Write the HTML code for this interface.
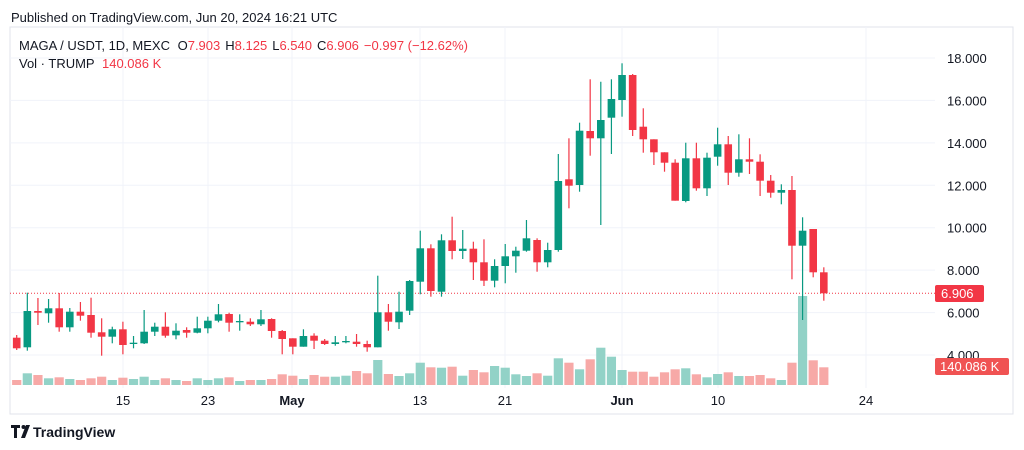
<!DOCTYPE html>
<html><head><meta charset="utf-8"><style>
html,body{margin:0;padding:0;background:#fff;width:1024px;height:450px;overflow:hidden}
svg{display:block;font-family:"Liberation Sans",sans-serif}
</style></head><body>
<svg id="c" width="1024" height="450" xmlns="http://www.w3.org/2000/svg">
<rect width="1024" height="450" fill="#fff"/>
<text x="11" y="22" font-size="13" fill="#131722">Published on TradingView.com, Jun 20, 2024 16:21 UTC</text>
<rect x="10" y="27" width="1003" height="387" fill="none" stroke="#e0e3eb" stroke-width="1"/>
<g id="grid" stroke="#f0f3fa" stroke-width="1"></g>
<g id="vol"></g>
<line x1="10" y1="293.3" x2="935" y2="293.3" stroke="#f23645" stroke-width="1" stroke-dasharray="1,2"/>
<g id="cand"></g>
<g font-size="13" fill="#131722">
<text x="19" y="50">MAGA / USDT, 1D, MEXC <tspan dx="4">O</tspan><tspan fill="#f23645">7.903</tspan><tspan dx="5">H</tspan><tspan fill="#f23645">8.125</tspan><tspan dx="5">L</tspan><tspan fill="#f23645">6.540</tspan><tspan dx="5">C</tspan><tspan fill="#f23645">6.906</tspan><tspan dx="5" fill="#f23645">−0.997 (−12.62%)</tspan></text>
<text x="19" y="68">Vol · TRUMP <tspan dx="4" fill="#f23645">140.086 K</tspan></text>
</g>
<g font-size="13" fill="#131722" id="pax"></g>
<rect x="935" y="285" width="49" height="17" rx="2" fill="#f23645"/>
<text x="941" y="298" font-size="13" fill="#fff">6.906</text>
<rect x="935" y="358" width="74" height="17" rx="2" fill="#f05353"/>
<text x="940" y="371" font-size="13" fill="#fff">140.086 K</text>
<g font-size="13" fill="#131722" text-anchor="middle">
<text x="123" y="405">15</text><text x="208" y="405">23</text><text x="292" y="405" font-weight="bold">May</text>
<text x="420" y="405">13</text><text x="505" y="405">21</text><text x="622" y="405" font-weight="bold">Jun</text>
<text x="718" y="405">10</text><text x="866" y="405">24</text>
</g>
<g transform="translate(11,425)">
<path d="M0 0h9v3h-3v10h-3v-10h-3z" fill="#131722"/>
<circle cx="12.5" cy="2" r="2" fill="#131722"/>
<path d="M15 0h4l-5 13h-4z" fill="#131722"/>
<text x="22" y="12" font-size="14" font-weight="bold" fill="#131722">TradingView</text>
</g>
</svg>
<script>
var NS="http://www.w3.org/2000/svg";
function el(p,t,a){var e=document.createElementNS(NS,t);for(var k in a)e.setAttribute(k,a[k]);p.appendChild(e);return e;}
var g=document.getElementById('grid'),pax=document.getElementById('pax');
[18,16,14,12,10,8,6,4].forEach(function(v){var y=58+(18-v)*21.214;el(g,'line',{x1:10,x2:935,y1:y,y2:y});
var t=el(pax,'text',{x:947,y:y+5});t.textContent=v.toFixed(3);});
[123,208,292,420,505,622,718,866].forEach(function(x){el(g,'line',{x1:x,x2:x,y1:27,y2:388});});
// [g/r, wickTop, bodyTop, bodyBot, wickBot]
var C=[
['r',335,337.7,348.3,350],['g',292.7,311,347.3,350.7],['r',298,311,312.7,325],['g',299,308.3,313.3,322.7],['r',293,308.3,327.3,331.7],
['g',308,311.7,327.3,331.7],['r',302,311.7,315.7,320.7],['r',297.7,315,332.7,337.7],['r',318.3,332.3,336.7,355.7],['g',326.7,329.3,336.7,343.3],
['r',321.7,329.3,345,354.3],['g',336,342.7,344,348.3],['g',310,331.7,343.3,344],['g',322.7,326.7,331.7,336],['r',312.3,326.7,335.7,337.7],
['g',323.3,330.7,335.3,339.3],['r',327.3,330,332.7,337.7],['g',316.7,328.3,332.7,333.3],['g',316.7,320.7,328.3,333.3],['g',304,314.3,320.7,322.3],
['r',312.7,314,322.7,331.7],['g',314.3,321,322,330.7],['r',318.3,321.7,324.3,326],['g',310,319.3,324.3,326],['r',318.3,319,331,337.7],
['r',330,331,339,354.3],['r',338.3,338.3,346.7,354.3],['g',329.3,336,346.7,346.7],['r',333.3,335.7,340.7,349],['r',339,340.7,344,345],
['g',336,342.3,344,345.7],['g',336,341,342.3,343.3],['r',334,341.7,344,346.7],['r',340.7,344,347.3,351.7],['g',275.7,312.3,347.3,347.3],
['r',304,312.3,321.7,330.7],['g',291.7,311.7,322.3,329],['g',280,281,310.7,315],['g',230.7,248.3,281.7,294.3],['r',244.3,248.3,291,296.7],
['g',234.3,240.3,291.7,296.7],['r',216.7,240.3,251,259.3],['g',230,248.7,251,259],['r',241.7,248.7,262.3,280],['r',239.3,262.3,280.7,286],
['g',259.3,266,280.7,287.3],['g',244,256.3,266,283.3],['g',246.7,250.7,256.3,272.7],['g',220,238.3,250.7,251.7],['r',238.3,240,262.3,271.7],
['g',242.7,250,262.3,267.3],['g',154,181,250,251.7],['r',138.3,179.3,185.7,208.3],['g',122.7,130.7,185,191.7],['r',79.3,131,138.3,155.7],
['g',81.7,120,138.3,225],['g',79.3,99,117.7,154],['g',63.3,75,100,116.7],['r',74,75,130,136],['r',108.3,126.7,139.3,152.7],
['r',139.3,139.3,152.3,165],['r',152.3,152.3,162.7,171.7],['r',159.3,162.7,200.7,200.7],['g',142.7,158.3,201,202.3],['r',142.7,158.3,188.3,190.7],
['g',152.7,157.7,188.3,196],['g',127.7,144.3,156.7,165.7],['r',136,144.3,172.7,185],['g',134.3,159.3,172.7,176.7],['r',138.3,159.3,161.7,174],
['r',154.3,161.7,180.7,196],['r',175,180.7,192.7,197.7],['g',184.3,190,192.7,204.3],['r',176,190,245.7,279.3],['g',217.3,230.7,245.7,320],
['r',229,229,272.3,277.3],['r',267.3,272.3,293.3,300.7]];
var V=[380,373.3,375,378.3,377.3,379,380,378.3,376.7,380,377.7,379,376.7,380,378.3,380,381,378.3,380,378.3,377.3,381,380,380,379,374.3,375.7,379,375,376.7,376.7,375.7,371,373.3,360,374,376,
373.3,362.7,367.3,367.7,366.7,375.7,370,372.3,366,367.7,374.3,376,373.3,375.7,358.3,362.7,369.3,359.3,347.7,356.7,370,371.7,371.7,376.7,372.3,369.3,368.3,374.3,377.3,374,372.3,376,376,375,378.3,380,362.7,296,360.3,367.3];
var cg=document.getElementById('cand'),vg=document.getElementById('vol');
C.forEach(function(c,i){var x=16.7+i*10.62,col=c[0]=='g'?'#089981':'#f23645',vc=c[0]=='g'?'#92d2c7':'#f7a9a7';
el(vg,'rect',{x:x-4.6,y:V[i],width:9.2,height:385-V[i],fill:vc});
el(cg,'line',{x1:x,x2:x,y1:c[1],y2:c[4],stroke:col,'stroke-width':1.2});
el(cg,'rect',{x:x-3.8,y:c[2],width:7.6,height:Math.max(1.3,c[3]-c[2]),fill:col});});
</script>
</body></html>
